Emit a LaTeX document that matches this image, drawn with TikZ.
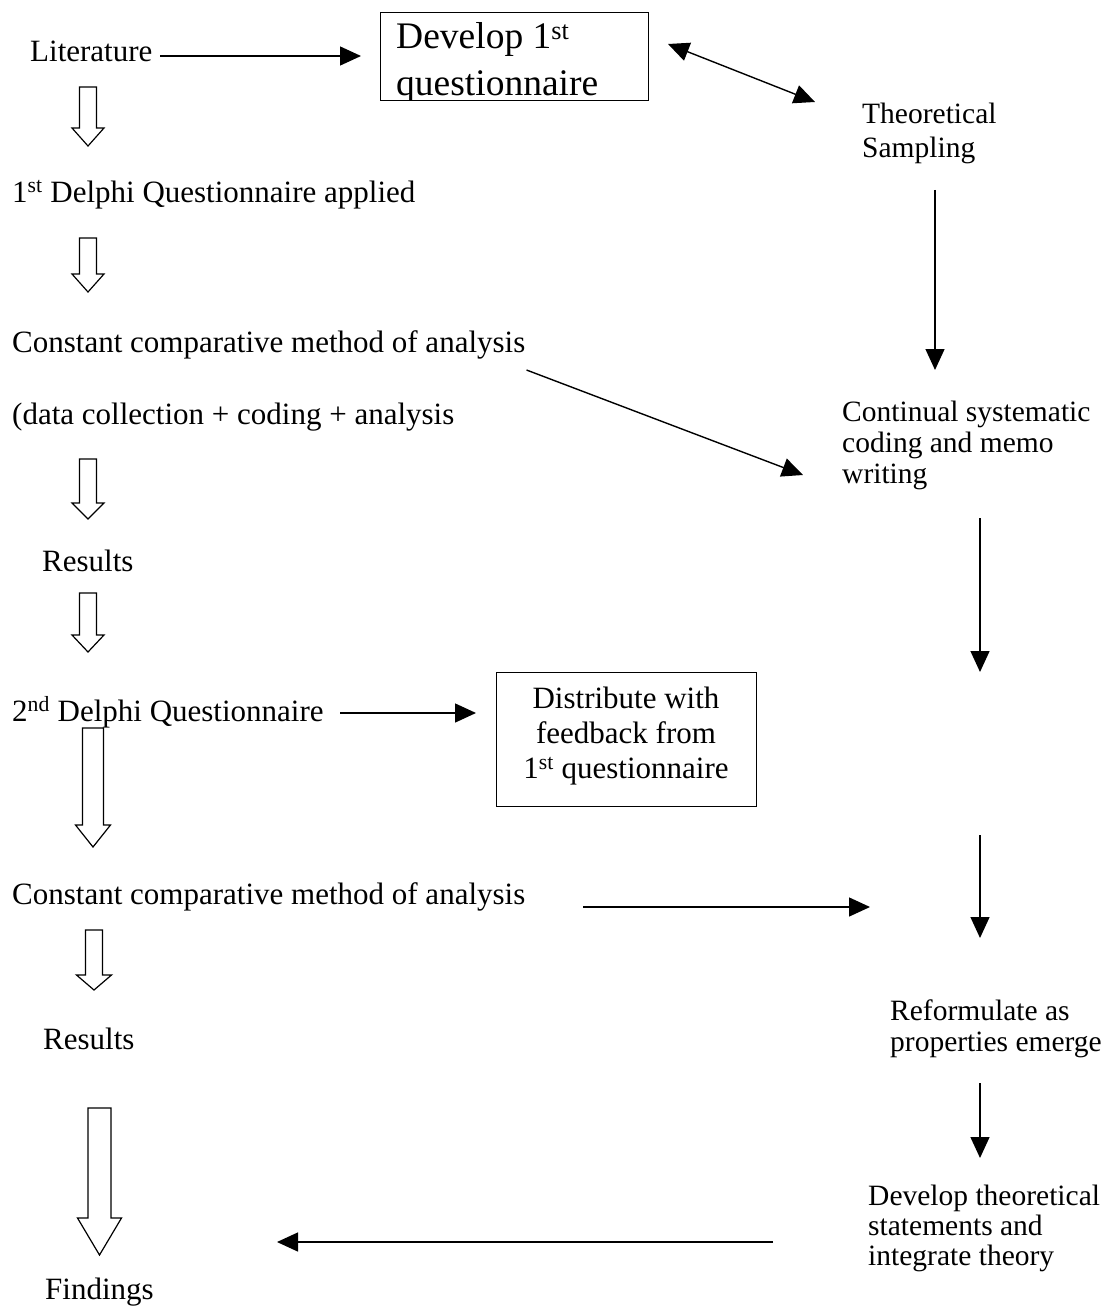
\documentclass[tikz,border=0pt]{standalone}
\usepackage{fontspec}
\setmainfont{Liberation Serif}
\usetikzlibrary{arrows.meta}
\newcommand{\hollowdown}[6]{%
  \draw[hollow] (#1-#4,#2) -- (#1+#4,#2) -- (#1+#4,#3) -- (#1+#5,#3) -- (#1,#6) -- (#1-#5,#3) -- (#1-#4,#3) -- cycle;}
\begin{document}
\begin{tikzpicture}[x=1pt,y=-1pt,
  lt/.style={font=\fontsize{31}{36}\selectfont, anchor=base west, inner sep=0pt},
  bt/.style={font=\fontsize{37.5}{42}\selectfont, anchor=base west, inner sep=0pt},
  rt/.style={anchor=north west, align=left, inner sep=0pt},
  conn/.style={line width=1.4pt, -{Triangle[length=21pt,width=19pt]}},
  dconn/.style={line width=1.4pt, {Triangle[length=21pt,width=19pt]}-{Triangle[length=21pt,width=19pt]}},
  boxn/.style={draw, line width=1.4pt, inner sep=0pt},
  hollow/.style={line width=1.2pt, fill=white, line join=miter},
]
\useasboundingbox (0,0) rectangle (1104,1308);

% ---------- left column ----------
\node[lt] (lit) at (30,62) {Literature};
\node[lt] (d1) at (12,202) {1\textsuperscript{st} Delphi Questionnaire applied};
\node[lt] (c1) at (12,352) {Constant comparative method of analysis};
\node[lt] (dc) at (12,424) {(data collection + coding + analysis};
\node[lt] (r1) at (42,571) {Results};
\node[lt] (d2) at (12,721) {2\textsuperscript{nd} Delphi Questionnaire};
\node[lt] (c2) at (12,904) {Constant comparative method of analysis};
\node[lt] (r2) at (43,1049) {Results};
\node[lt] (fi) at (45,1299) {Findings};

% hollow block arrows
\hollowdown{88}{87}{128}{8.5}{16}{146}
\hollowdown{88}{238}{274}{8.5}{16}{292}
\hollowdown{88}{459}{503}{8.5}{16}{519}
\hollowdown{88}{593}{635}{8.5}{16}{652}
\hollowdown{93}{728}{825}{10.5}{17.5}{847}
\hollowdown{94}{930}{975}{8.5}{17.5}{990}
\hollowdown{99.5}{1108}{1218}{11.5}{22}{1255}

% ---------- boxes ----------
\node[boxn, minimum width=268pt, minimum height=88pt, anchor=north west] (dev) at (380,12) {};
\begin{scope}
  \clip (380,12) rectangle (648,100);
  \node[bt] (devA) at (396,49) {Develop 1\textsuperscript{st}};
  \node[bt] (devB) at (396,96) {questionnaire};
\end{scope}

\node[boxn, minimum width=260pt, minimum height=134pt, anchor=north west] (dist) at (496,672) {};
\node[anchor=north, align=center, inner sep=0pt, font=\fontsize{31}{35}\selectfont] (distT) at (626,687)
  {Distribute with\\feedback from\\1\textsuperscript{st} questionnaire};

% ---------- right column ----------
\node[rt, font=\fontsize{29.5}{34}\selectfont] (theo) at (862,103) {Theoretical\\Sampling};
\node[rt, font=\fontsize{29.5}{31}\selectfont] (cont) at (842,401) {Continual systematic\\coding and memo\\writing};
\node[rt, font=\fontsize{29.5}{31}\selectfont] (refo) at (890,1000) {Reformulate as\\properties emerge};
\node[rt, font=\fontsize{29.5}{30}\selectfont] (devt) at (868,1185) {Develop theoretical\\statements and\\integrate theory};

% ---------- connectors ----------
\coordinate (litA) at (160,56);
\draw[conn, shorten >=19pt] (litA) -- (dev.west |- litA);

\coordinate (devR) at (668,44);
\coordinate (theoT) at (815,102);
\draw[dconn] (devR) -- (theoT);

\coordinate (theoB) at (935,190);
\coordinate (contT) at (935,370);
\draw[conn] (theoB) -- (contT);

\coordinate (c1E) at ([shift={(1,18)}]c1.base east);
\coordinate (contL) at (803,475);
\draw[conn] (c1E) -- (contL);

\coordinate (contB) at (980,518);
\coordinate (contEnd) at (980,672);
\draw[conn] (contB) -- (contEnd);

\coordinate (d2E) at (340,713);
\draw[conn, shorten >=20pt] (d2E) -- (dist.west |- d2E);

\coordinate (c2E) at (583,907);
\coordinate (c2End) at (870,907);
\draw[conn] (c2E) -- (c2End);

\coordinate (midT) at (980,835);
\coordinate (refoT) at (980,938);
\draw[conn] (midT) -- (refoT);

\coordinate (refoB) at (980,1083);
\coordinate (devtT) at (980,1158);
\draw[conn] (refoB) -- (devtT);

\coordinate (devtL) at (773,1242);
\coordinate (fiR) at (277,1242);
\draw[conn] (devtL) -- (fiR);
\end{tikzpicture}
\end{document}
